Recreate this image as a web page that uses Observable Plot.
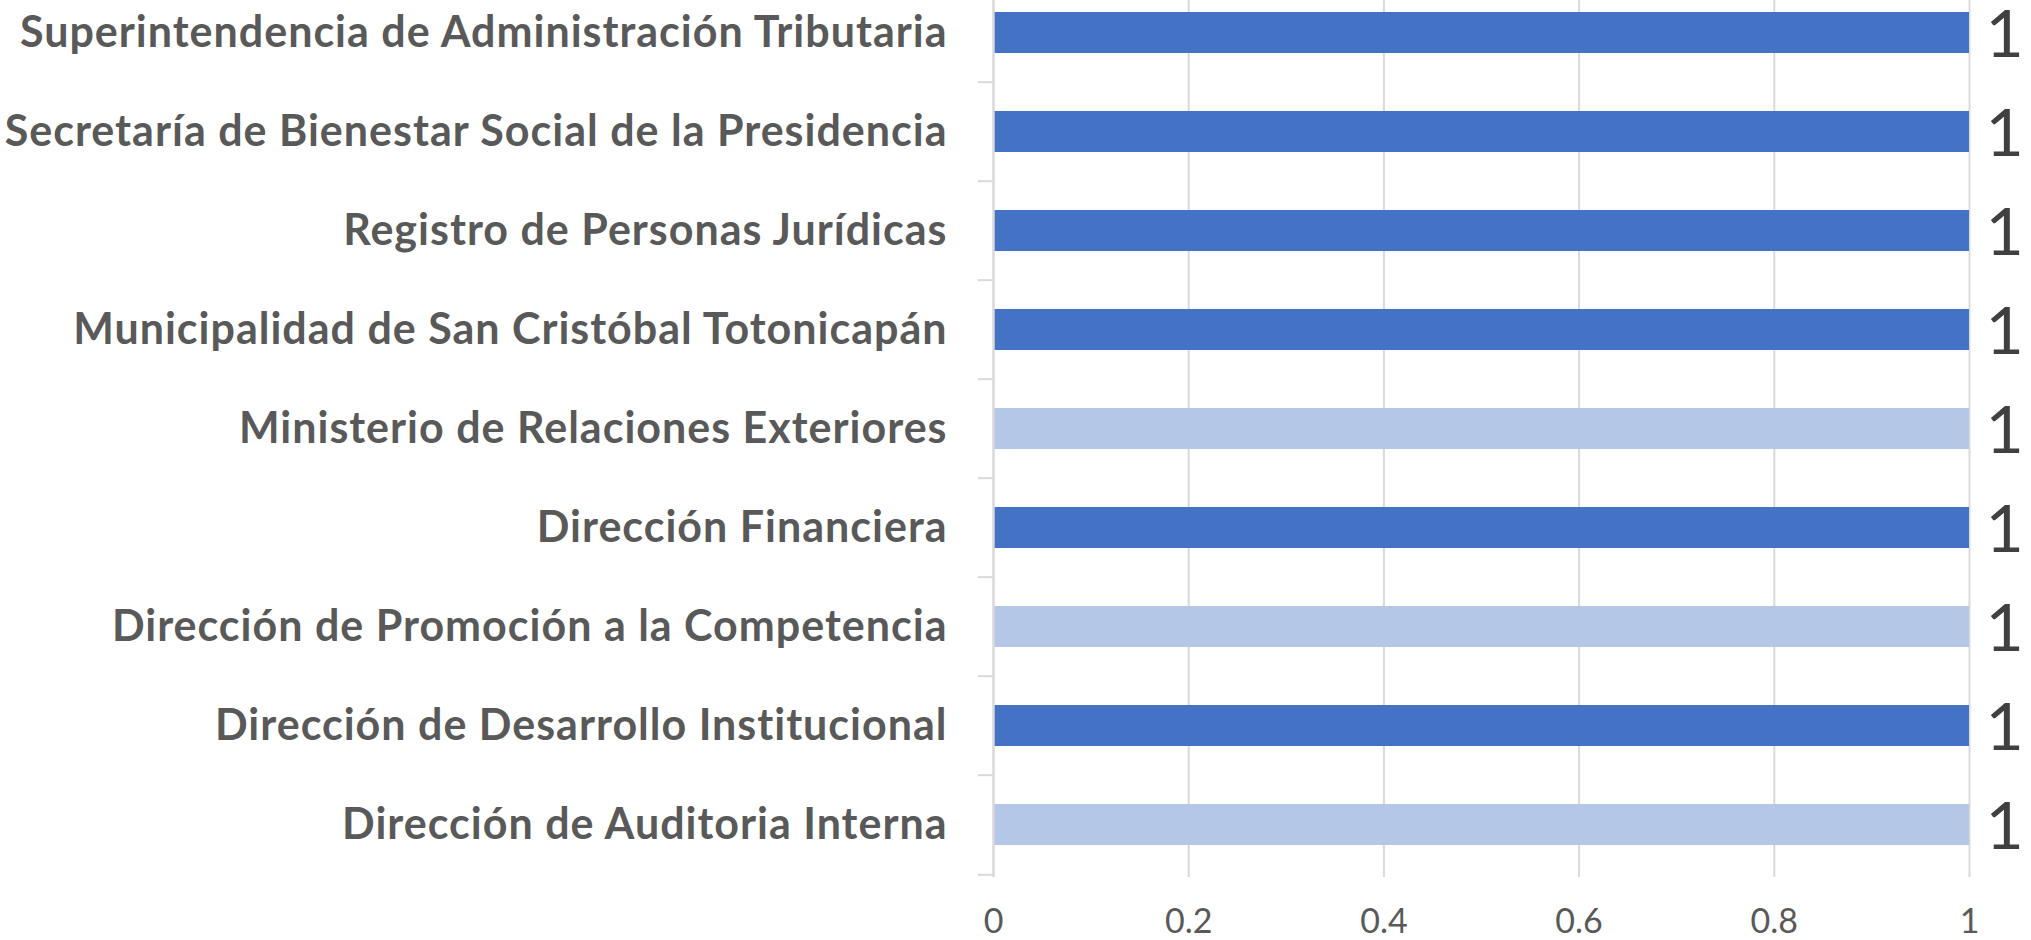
<!DOCTYPE html>
<html>
<head>
<meta charset="utf-8">
<script src="https://cdn.jsdelivr.net/npm/d3@7"></script>
<script src="https://cdn.jsdelivr.net/npm/@observablehq/plot@0.6"></script>
<style>
  html, body { margin: 0; padding: 0; background: #ffffff; }
  #chart { width: 2031px; height: 940px; overflow: hidden; }
</style>
</head>
<body>
<div id="chart"></div>
<script>
// ---- data ----
const categories = [
  "Superintendencia de Administración Tributaria",
  "Secretaría de Bienestar Social de la Presidencia",
  "Registro de Personas Jurídicas",
  "Municipalidad de San Cristóbal Totonicapán",
  "Ministerio de Relaciones Exteriores",
  "Dirección Financiera",
  "Dirección de Promoción a la Competencia",
  "Dirección de Desarrollo Institucional",
  "Dirección de Auditoria Interna"
];
const values = [1, 1, 1, 1, 1, 1, 1, 1, 1];
const shades = ["oscuro", "oscuro", "oscuro", "oscuro", "claro", "oscuro", "claro", "oscuro", "claro"];
const shadeDomain = ["oscuro", "claro"];
const xTickValues = [0, 0.2, 0.4, 0.6, 0.8, 1];
const xTickLabels = ["0", "0.2", "0.4", "0.6", "0.8", "1"];

// ---- layout ----
const W = 2031, H = 940;
const mTop = -20, mBottom = 63, mLeft = 993, mRight = 62;
const step = (H - mTop - mBottom) / categories.length;
const FONT = "Lato, 'Open Sans', sans-serif";

const data = categories.map((c, i) => ({ category: c, value: values[i], shade: shades[i] }));

const chart = Plot.plot({
  width: W,
  height: H,
  marginTop: mTop,
  marginBottom: mBottom,
  marginLeft: mLeft,
  marginRight: mRight,
  style: { fontFamily: FONT, background: "#ffffff" },
  x: { domain: [0, 1], axis: null },
  y: { domain: categories, paddingInner: 0.59, paddingOuter: 0.295, axis: null },
  color: { domain: shadeDomain, range: ["#4472C4", "#B4C7E7"] },
  marks: [
    Plot.gridX({ ticks: xTickValues.slice(1), stroke: "#D9D9D9", strokeOpacity: 1, strokeWidth: 2 }),
    Plot.barX(data, { y: "category", x: "value", fill: "shade" }),
    Plot.ruleX([0], { stroke: "#D9D9D9", strokeWidth: 2.5 }),
    // category tick marks at band boundaries
    Plot.axisY({ ticks: categories, tickSize: 15, tickFormat: () => "", label: null, dy: -step / 2,
                 stroke: "#D9D9D9", strokeWidth: 2, strokeOpacity: 1 }),
    Plot.axisY({ ticks: categories.slice(-1), tickSize: 15, tickFormat: () => "", label: null, dy: step / 2,
                 stroke: "#D9D9D9", strokeWidth: 2, strokeOpacity: 1 }),
    // category labels
    Plot.axisY({ ticks: categories, tickSize: 0, tickPadding: 46, label: null,
                 fontSize: 43, fontWeight: "bold", fill: "#595959", fontFamily: FONT }),
    // value axis labels
    Plot.axisX({ ticks: xTickValues, tickSize: 0, tickPadding: 31, label: null,
                 tickFormat: (d) => xTickLabels[xTickValues.indexOf(d)],
                 fontSize: 34, fill: "#595959", fontFamily: FONT }),
    // value labels
    Plot.text(data, { x: "value", y: "category", text: d => String(d.value), dx: 16, dy: 3,
                      textAnchor: "start", fontSize: 66, fill: "#404040", fontFamily: FONT })
  ]
});
d3.select(chart).selectAll("g[aria-label='y-axis tick label']").style("letter-spacing", "1px");
document.getElementById("chart").appendChild(chart);
</script>
</body>
</html>
